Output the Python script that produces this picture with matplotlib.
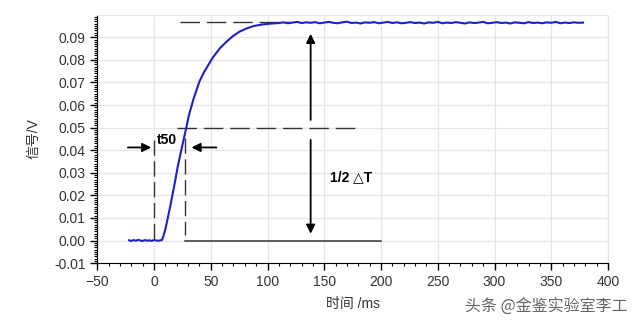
import numpy as np
import matplotlib
matplotlib.use('Agg')
import matplotlib.pyplot as plt
from matplotlib.ticker import MultipleLocator

plt.rcParams['font.family'] = ['Liberation Sans', 'Noto Sans CJK SC', 'DejaVu Sans']

# signal (time in ms, signal in V)
base_t = [-22, -20, -18, -16, -14, -12, -10, -8, -6, -4, -2, 0, 2, 4, 6]
base_v = [0.0001, -0.0002, 0.0002, -0.0001, 0.0003, 0.0000, -0.0002, 0.0002,
          -0.0001, 0.0001, -0.0002, 0.0002, 0.0000, -0.0001, 0.0001]

rise_t = [7.0, 8.0, 10.0, 12.7, 15.0, 18.5, 21.0, 24.4, 28.0, 30.8, 35.0, 40.0,
          44.0, 47.8, 52.0, 58.0, 64.0, 69.5, 75.0, 81.5, 88.0, 96.0, 104.0]
rise_v = [0.0002, 0.0015, 0.0050, 0.0113, 0.0170, 0.0261, 0.0330, 0.0409, 0.0490,
          0.0556, 0.0630, 0.0704, 0.0745, 0.0777, 0.0812, 0.0851, 0.0881, 0.0905,
          0.0924, 0.0939, 0.0950, 0.0957, 0.0961]

plateau_t = np.arange(110, 380, 4)
plateau_v = [0.0963, 0.0966, 0.0962, 0.0965, 0.0968, 0.0963, 0.0966, 0.0964,
             0.0967, 0.0962, 0.0965, 0.0968, 0.0964, 0.0962, 0.0966, 0.0969,
             0.0963, 0.0965, 0.0961, 0.0966, 0.0964, 0.0967, 0.0962, 0.0965,
             0.0968, 0.0963, 0.0966, 0.0962, 0.0964, 0.0967, 0.0963, 0.0965,
             0.0961, 0.0966, 0.0964, 0.0968, 0.0962, 0.0965, 0.0963, 0.0967,
             0.0964, 0.0961, 0.0966, 0.0963, 0.0965, 0.0968, 0.0962, 0.0964,
             0.0967, 0.0963, 0.0965, 0.0961, 0.0966, 0.0964, 0.0962, 0.0967,
             0.0963, 0.0965, 0.0962, 0.0966, 0.0964, 0.0968, 0.0962, 0.0965,
             0.0963, 0.0966, 0.0964, 0.0965]

t = np.concatenate([base_t, rise_t, plateau_t])
v = np.concatenate([base_v, rise_v, plateau_v])

fig = plt.figure(figsize=(6.4, 3.24), dpi=100)
ax = fig.add_axes([0.152, 0.188, 0.798, 0.766])

ax.plot(t, v, color='#2020c8', lw=1.5, zorder=3)

ax.set_xlim(-50, 400)
ax.set_ylim(-0.01, 0.0999)
ax.xaxis.set_major_locator(MultipleLocator(50))
ax.xaxis.set_minor_locator(MultipleLocator(10))
ax.yaxis.set_major_locator(MultipleLocator(0.01))
ax.yaxis.set_minor_locator(MultipleLocator(0.001))
ax.yaxis.set_major_formatter(matplotlib.ticker.FormatStrFormatter('%.2f'))
ax.grid(True, which='major', color='#e4e6ee', lw=0.9, zorder=0)
ax.tick_params(which='major', length=5, width=1, labelsize=10, labelcolor='#333333')
ax.tick_params(which='minor', length=2.5, width=0.8)
for s in ['top', 'right']:
    ax.spines[s].set_color('#e4e6ee')
for s in ['left', 'bottom']:
    ax.spines[s].set_color('black')

ax.set_xlabel('时间 /ms', fontsize=10, color='#333333', labelpad=6)
ax.set_ylabel('信号/V', fontsize=10, color='#333333', labelpad=10)

dash = (0, (14, 5))
gray = '#333333'
# reference lines
ax.plot([23, 120], [0.0966, 0.0966], color=gray, lw=1, ls=dash, zorder=2)
ax.plot([20, 177], [0.0499, 0.0499], color=gray, lw=1, ls=dash, zorder=2)
ax.plot([0, 0], [0.0446, 0.0], color=gray, lw=1, ls=(0, (11, 4)), zorder=2)
ax.plot([27, 27], [0.0454, 0.0025], color=gray, lw=1, ls=(0, (11, 4)), zorder=2)
ax.plot([27, 200], [0.0, 0.0], color=gray, lw=1.1, zorder=2)

# arrows
ap = dict(arrowstyle='-|>', color='black', lw=1.3, mutation_scale=13, shrinkA=0, shrinkB=0)
ax.annotate('', xy=(138, 0.0915), xytext=(138, 0.0534), arrowprops=ap)
ax.annotate('', xy=(138, 0.0030), xytext=(138, 0.0446), arrowprops=ap)
ax.annotate('', xy=(-2.5, 0.0412), xytext=(-23, 0.0412), arrowprops=ap)
ax.annotate('', xy=(33, 0.0412), xytext=(55, 0.0412), arrowprops=ap)

ax.text(2.5, 0.0446, 't50', fontsize=10, fontweight='bold', va='center', ha='left')
ax.text(155, 0.0282, '1/2 △T', fontsize=10, fontweight='bold', va='center', ha='left',
        family=['Liberation Sans', 'DejaVu Sans'])

fig.text(0.727, 0.052, '头条 @金鉴实验室李工', fontsize=11.5, color='#666666',
         family=['Noto Sans CJK SC', 'DejaVu Sans'], va='center', ha='left')

fig.savefig('out.png', dpi=100)
